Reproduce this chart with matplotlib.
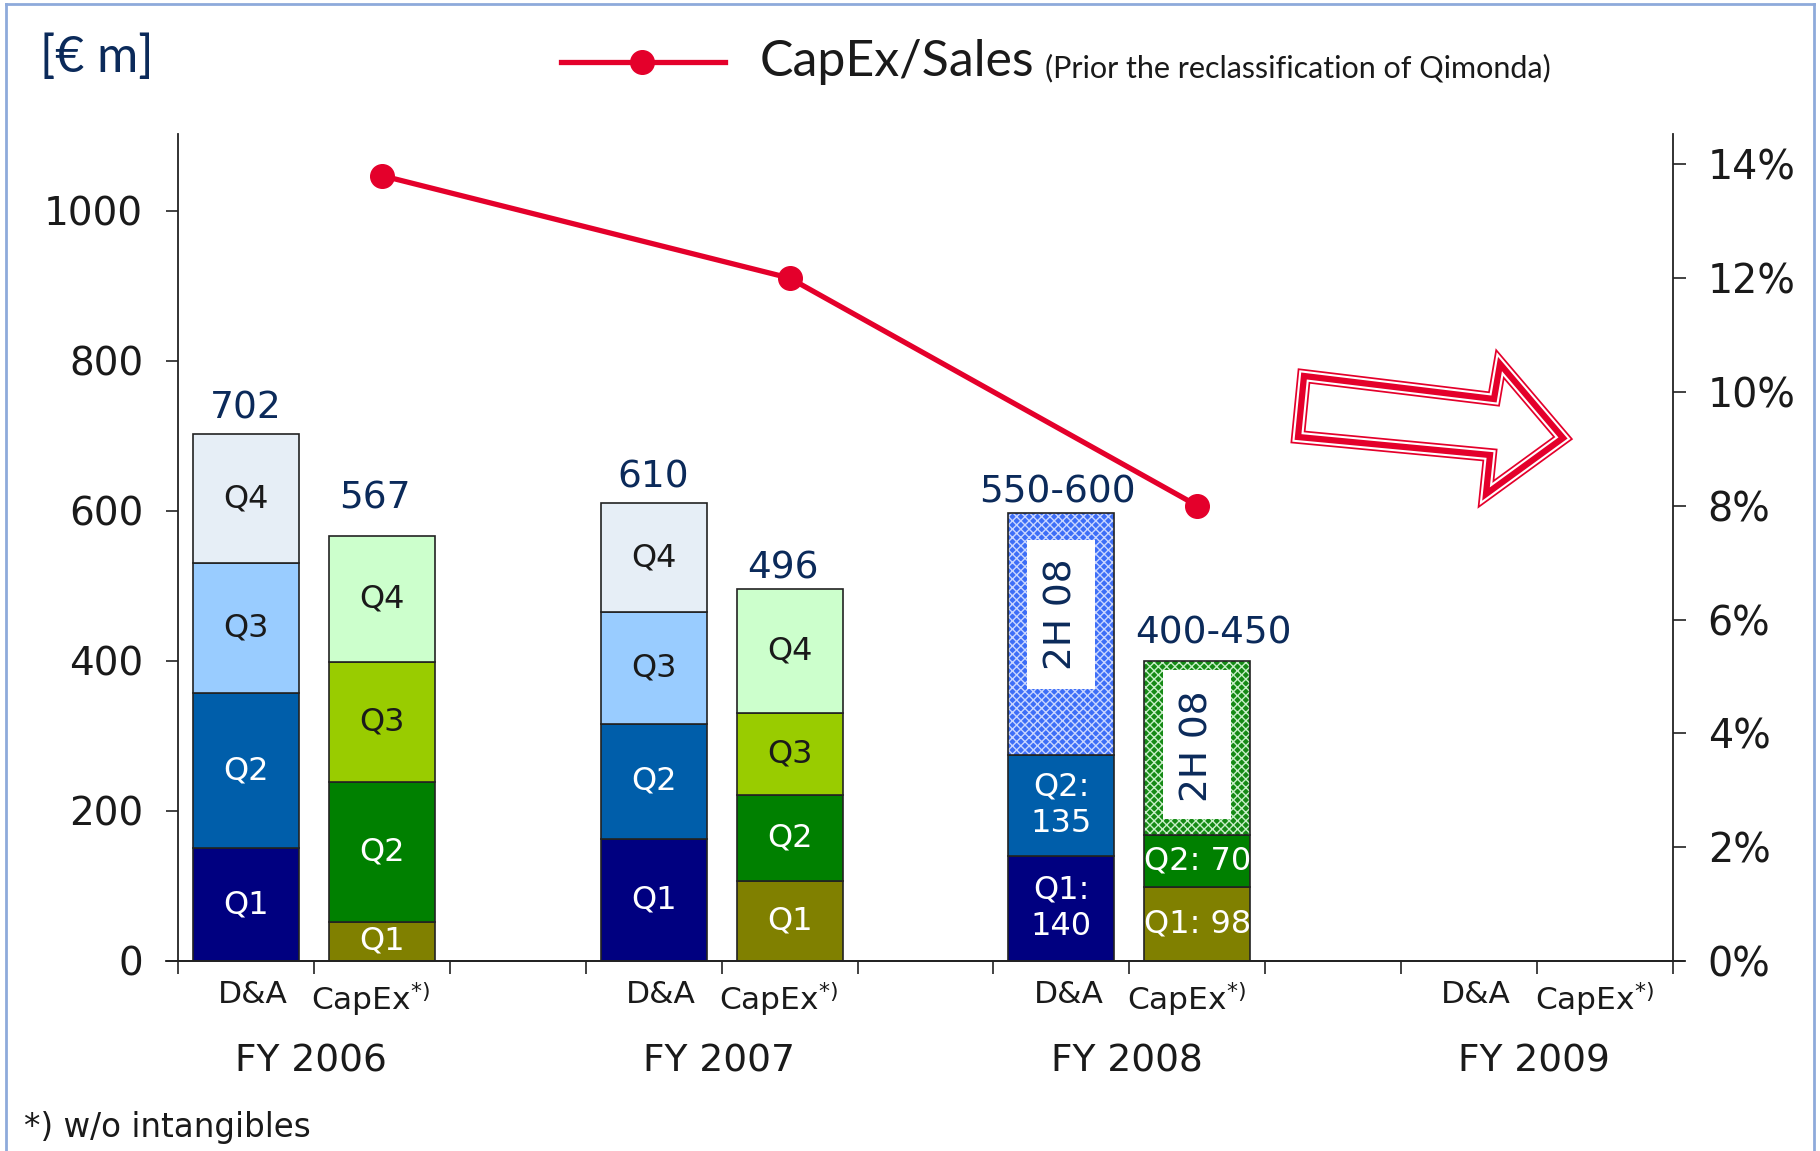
import matplotlib
matplotlib.use("Agg")
import matplotlib.pyplot as plt
import matplotlib.patches as mpatches
import matplotlib.transforms as mtransforms
from matplotlib.lines import Line2D
import numpy as np

# ---------------- data ----------------
years = ["FY 2006", "FY 2007", "FY 2008", "FY 2009"]
bar_kinds = ["D&A", "CapEx$^{*)}$"]

da_q1 = [150, 163, 140]
da_q2 = [207, 153, 135]
da_q3 = [173, 149]
da_q4 = [172, 145]
da_2h = [322]           # FY 2008 second half (estimate)

capex_q1 = [52, 106, 98]
capex_q2 = [187, 115, 70]
capex_q3 = [159, 110]
capex_q4 = [169, 165]
capex_2h = [232]        # FY 2008 second half (estimate)

da_totals = ["702", "610", "550-600"]
capex_totals = ["567", "496", "400-450"]
da_2008_labels = ["Q1:\n140", "Q2:\n135"]
capex_2008_labels = ["Q1: 98", "Q2: 70"]

capex_sales_pct = [13.8, 12.0, 8.0]

left_ticks = [0, 200, 400, 600, 800, 1000]
right_ticks = [0, 2, 4, 6, 8, 10, 12, 14]

# ---------------- style ----------------
NAVY_TXT = "#0B2A5A"
DA_COLS = ["#000080", "#005EAA", "#99CCFF", "#E6EEF6"]
CX_COLS = ["#808000", "#008000", "#99CC00", "#CCFFCC"]
RED = "#E4002B"
FONT = "DejaVu Sans"
HEAD = ["Lato", "DejaVu Sans"]

plt.rcParams["font.family"] = FONT
plt.rcParams["hatch.linewidth"] = 1.0

W, H = 1820, 1151
fig = plt.figure(figsize=(W / 100, H / 100), dpi=100)

x_left, x_right = 178, 1673
y_zero, y_top = 961, 133.5
ax = fig.add_axes([x_left / W, 1 - y_zero / H, (x_right - x_left) / W, (y_zero - y_top) / H])

ymax = 1103
ax.set_ylim(0, ymax)
ax.set_xlim(0, 11)

bw = 0.78
group_start = [0, 3, 6, 9]
da_x = [g + 0.5 for g in group_start]
cx_x = [g + 1.5 for g in group_start]
EDGE = "#222222"


def seg_label(x, bottom, h, text, color, size=23):
    ax.text(x, bottom + h / 2, text, ha="center", va="center", color=color,
            fontsize=size, linespacing=1.25, zorder=5)


def total_label(x, top, text, dx=0.0, dy=12):
    ax.text(x + dx, top + dy, text, ha="center", va="bottom", color=NAVY_TXT, fontsize=27)


# D&A bars
for i in range(3):
    bottom = 0
    if i < 2:
        segs = [da_q1[i], da_q2[i], da_q3[i], da_q4[i]]
        for k, h in enumerate(segs):
            ax.bar(da_x[i], h, bw, bottom=bottom, color=DA_COLS[k], edgecolor=EDGE, lw=1.2, zorder=2)
            seg_label(da_x[i], bottom, h, f"Q{k+1}", "white" if k < 2 else "#1a1a1a")
            bottom += h
        total_label(da_x[i], bottom, da_totals[i], dy=10)
    else:
        segs = [da_q1[i], da_q2[i]]
        for k, h in enumerate(segs):
            ax.bar(da_x[i], h, bw, bottom=bottom, color=DA_COLS[k], edgecolor=EDGE, lw=1.2, zorder=2)
            seg_label(da_x[i], bottom, h, da_2008_labels[k], "white")
            bottom += h
        h = da_2h[0]
        ax.bar(da_x[i], h, bw, bottom=bottom, color="#3D6EF7", edgecolor="#C9D6FF", lw=0, hatch="xxxx", zorder=2)
        ax.bar(da_x[i], h, bw, bottom=bottom, fill=False, edgecolor=EDGE, lw=1.2, zorder=3)
        ax.add_patch(mpatches.Rectangle((da_x[i] - 0.25, bottom + 0.273 * h), 0.5, 0.615 * h,
                                        facecolor="white", edgecolor="none", zorder=4))
        ax.text(da_x[i], bottom + 0.58 * h, "2H 08", rotation=90, ha="center", va="center",
                color=NAVY_TXT, fontsize=27, zorder=5)
        bottom += h
        total_label(da_x[i], bottom, da_totals[i], dx=-0.03, dy=3)

# CapEx bars
for i in range(3):
    bottom = 0
    if i < 2:
        segs = [capex_q1[i], capex_q2[i], capex_q3[i], capex_q4[i]]
        for k, h in enumerate(segs):
            ax.bar(cx_x[i], h, bw, bottom=bottom, color=CX_COLS[k], edgecolor=EDGE, lw=1.2, zorder=2)
            seg_label(cx_x[i], bottom, h, f"Q{k+1}", "white" if k < 2 else "#1a1a1a")
            bottom += h
        total_label(cx_x[i], bottom, capex_totals[i], dx=-0.05, dy=25 if i == 0 else 3)
    else:
        segs = [capex_q1[i], capex_q2[i]]
        for k, h in enumerate(segs):
            ax.bar(cx_x[i], h, bw, bottom=bottom, color=CX_COLS[k], edgecolor=EDGE, lw=1.2, zorder=2)
            seg_label(cx_x[i], bottom, h, capex_2008_labels[k], "white")
            bottom += h
        h = capex_2h[0]
        ax.bar(cx_x[i], h, bw, bottom=bottom, color="#158A15", edgecolor="#C8EEC8", lw=0, hatch="xxxx", zorder=2)
        ax.bar(cx_x[i], h, bw, bottom=bottom, fill=False, edgecolor=EDGE, lw=1.2, zorder=3)
        ax.add_patch(mpatches.Rectangle((cx_x[i] - 0.25, bottom + 0.09 * h), 0.5, 0.86 * h,
                                        facecolor="white", edgecolor="none", zorder=4))
        ax.text(cx_x[i], bottom + 0.51 * h, "2H 08", rotation=90, ha="center", va="center",
                color=NAVY_TXT, fontsize=27, zorder=5)
        bottom += h
        total_label(cx_x[i], bottom, capex_totals[i], dx=0.12)

# axes styling
for s in ["top", "right"]:
    ax.spines[s].set_visible(False)
for s in ["left", "bottom"]:
    ax.spines[s].set_color(EDGE)
    ax.spines[s].set_linewidth(1.3)
ax.set_yticks(left_ticks)
ax.set_yticklabels([str(t) for t in left_ticks])
ax.tick_params(axis="y", direction="out", length=9, width=1.2, pad=16, labelsize=28,
               labelcolor="#1a1a1a", color=EDGE)
ax.set_xticks(np.arange(0, 12))
ax.set_xticklabels([])
ax.tick_params(axis="x", which="major", direction="out", length=9, width=1.2, color=EDGE)
minor_pos = []
minor_lab = []
for g in group_start:
    minor_pos += [g + 0.5, g + 1.5]
    minor_lab += bar_kinds
ax.set_xticks(minor_pos, minor=True)
ax.set_xticklabels(minor_lab, minor=True)
ax.tick_params(axis="x", which="minor", length=0, pad=14, labelsize=22.5, labelcolor="#1a1a1a")
for j, lab in enumerate(ax.get_xticklabels(minor=True)):
    dx = 7 if j % 2 == 0 else -11
    lab.set_transform(lab.get_transform() + mtransforms.ScaledTranslation(dx / 100, 0, fig.dpi_scale_trans))
for g, yl in zip(group_start, years):
    ax.text(g + 0.98, -0.1, yl, transform=ax.get_xaxis_transform(), ha="center", va="top",
            fontsize=27, color="#1a1a1a")
ax.plot([-0.09, 11.08], [0, 0], color=EDGE, lw=1.3, clip_on=False, zorder=1)

# right axis
ax2 = ax.twinx()
ax2.set_ylim(0, ymax / 1062 * 14)
for s in ["top", "left", "bottom"]:
    ax2.spines[s].set_visible(False)
ax2.spines["right"].set_color(EDGE)
ax2.spines["right"].set_linewidth(1.3)
ax2.set_yticks(right_ticks)
ax2.set_yticklabels([f"{t}%" for t in right_ticks])
ax2.tick_params(axis="y", direction="out", length=9, width=1.2, pad=16, labelsize=28.5,
                labelcolor="#1a1a1a", color=EDGE)
ax2.plot(cx_x[:3], capex_sales_pct, color=RED, lw=3.8, marker="o", markersize=17, zorder=6)

# legend (top)
fig.add_artist(Line2D([561 / W, 725 / W], [1 - 61.5 / H, 1 - 61.5 / H], color=RED, lw=3.8,
                      transform=fig.transFigure))
fig.add_artist(Line2D([642 / W], [1 - 61.5 / H], color=RED, marker="o", markersize=17,
                      transform=fig.transFigure))
fig.text(760 / W, 1 - 62 / H, "CapEx/Sales", family=HEAD, fontsize=36, color="#1a1a1a",
         ha="left", va="center")
fig.text(1045 / W, 1 - 68 / H, "(Prior the reclassification of Qimonda)", family=HEAD,
         fontsize=22, color="#1a1a1a", ha="left", va="center")
fig.text(40 / W, 1 - 58 / H, "[€ m]", family=HEAD, fontsize=36, color=NAVY_TXT,
         ha="left", va="center")

# footnote
fig.text(24 / W, 1 - 1127 / H, "*) w/o intangibles", fontsize=23.5, color="#1a1a1a",
         ha="left", va="center")

# decorative hollow arrow
arrow_px = [(1304, 376), (1494, 399), (1500, 364), (1563, 438), (1486, 494), (1490, 455), (1298, 437)]
arrow_fig = [(x / W, 1 - y / H) for x, y in arrow_px]
for lw, col in [(10, RED), (7.5, "white"), (4.5, RED)]:
    fig.add_artist(mpatches.Polygon(arrow_fig, closed=True, fill=False, edgecolor=col, lw=lw,
                                    joinstyle="miter", transform=fig.transFigure))

# figure frame
frame_col = "#8EAADB"
fig.add_artist(Line2D([6 / W, 6 / W], [0, 1 - 3.5 / H], color=frame_col, lw=2, transform=fig.transFigure))
fig.add_artist(Line2D([6 / W, 1814 / W], [1 - 3.5 / H, 1 - 3.5 / H], color=frame_col, lw=2, transform=fig.transFigure))
fig.add_artist(Line2D([1814 / W, 1814 / W], [0, 1 - 3.5 / H], color=frame_col, lw=2, transform=fig.transFigure))

fig.savefig("out.png", dpi=100, facecolor="white")
